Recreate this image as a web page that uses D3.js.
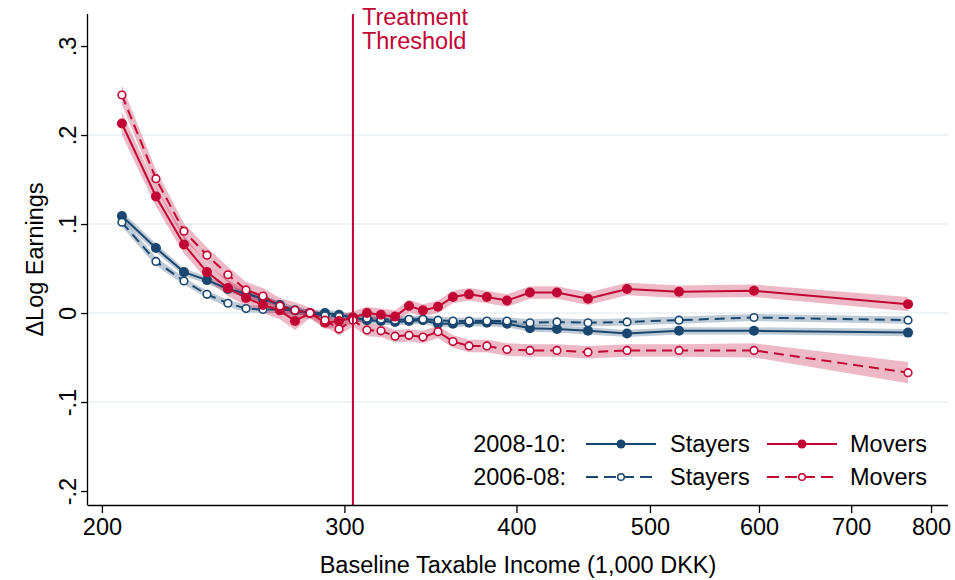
<!DOCTYPE html>
<html>
<head>
<meta charset="utf-8">
<script src="https://cdn.jsdelivr.net/npm/d3@7"></script>
<style>
  html, body { margin: 0; padding: 0; background: #fff; }
  svg { display: block; font-family: "Liberation Sans", Arial, sans-serif; }
</style>
</head>
<body>
<svg id="chart" width="955" height="580"></svg>
<script>
// Baseline taxable income bins (1,000 DKK), bin means
const income = [206.8, 218.9, 229.4, 238.4, 246.9, 254.5, 261.8, 269.3, 276.2, 283.2,
                290.4, 297.3, 304.3, 311.5, 318.9, 326.5, 334.2, 342.1, 350.8, 359.7,
                369.5, 380.7, 393.7, 409.1, 428.0, 450.8, 481.2, 524.9, 595.0, 769.8];

// Change in log earnings by group
const movers0810 = [0.213, 0.131, 0.077, 0.046, 0.028, 0.017, 0.009, 0.003, -0.009, 0.000,
                    -0.011, -0.009, -0.005, 0.000, -0.002, -0.004, 0.008, 0.003, 0.007, 0.018,
                    0.021, 0.018, 0.014, 0.023, 0.023, 0.016, 0.027, 0.024, 0.025, 0.010];
const stayers0810 = [0.109, 0.073, 0.046, 0.037, 0.027, 0.022, 0.016, 0.009, 0.003, 0.000,
                     0.000, -0.002, -0.005, -0.008, -0.009, -0.010, -0.009, -0.008, -0.012, -0.012,
                     -0.011, -0.011, -0.012, -0.017, -0.018, -0.020, -0.023, -0.020, -0.020, -0.022];
const stayers0608 = [0.102, 0.058, 0.036, 0.021, 0.011, 0.005, 0.004, 0.004, 0.003, 0.000,
                     -0.003, -0.004, -0.006, -0.006, -0.007, -0.008, -0.007, -0.007, -0.008, -0.009,
                     -0.009, -0.009, -0.009, -0.011, -0.010, -0.011, -0.010, -0.008, -0.005, -0.008];
const movers0608 = [0.245, 0.151, 0.092, 0.065, 0.043, 0.026, 0.019, 0.008, 0.003, 0.000,
                    -0.008, -0.018, -0.008, -0.019, -0.020, -0.026, -0.025, -0.027, -0.021, -0.032,
                    -0.037, -0.037, -0.041, -0.042, -0.042, -0.044, -0.042, -0.042, -0.042, -0.067];

// 95% confidence interval half-widths
const moversCI0810 = [0.013, 0.011, 0.010, 0.009, 0.009, 0.009, 0.009, 0.010, 0.010, 0.006,
                      0.007, 0.007, 0.007, 0.007, 0.007, 0.007, 0.007, 0.007, 0.007, 0.007,
                      0.007, 0.007, 0.007, 0.007, 0.007, 0.007, 0.007, 0.007, 0.007, 0.008];
const stayersCI0810 = [0.005, 0.005, 0.004, 0.004, 0.004, 0.004, 0.004, 0.004, 0.004, 0.003,
                       0.004, 0.004, 0.004, 0.004, 0.004, 0.004, 0.004, 0.004, 0.004, 0.004,
                       0.004, 0.004, 0.004, 0.004, 0.004, 0.004, 0.004, 0.004, 0.004, 0.004];
const stayersCI0608 = [0.005, 0.005, 0.004, 0.004, 0.004, 0.004, 0.004, 0.004, 0.004, 0.003,
                       0.004, 0.004, 0.004, 0.004, 0.004, 0.004, 0.004, 0.004, 0.004, 0.004,
                       0.004, 0.004, 0.004, 0.004, 0.004, 0.004, 0.004, 0.004, 0.004, 0.004];
const moversCI0608 = [0.011, 0.010, 0.009, 0.009, 0.009, 0.009, 0.009, 0.009, 0.009, 0.006,
                      0.007, 0.007, 0.007, 0.007, 0.007, 0.007, 0.007, 0.007, 0.007, 0.007,
                      0.007, 0.007, 0.007, 0.007, 0.007, 0.007, 0.007, 0.007, 0.008, 0.012];

const xTicks = [200, 300, 400, 500, 600, 700, 800];
const yTicks = [0.3, 0.2, 0.1, 0, -0.1, -0.2];
const yGrid = [0.2, 0.1, 0, -0.1];
const yTickLabels = [".3", ".2", ".1", "0", "-.1", "-.2"];
const threshold = 304.3;

const BLUE = "#1a476f";
const RED = "#c10534";
const FS = 23.5;

const svg = d3.select("#chart");
const plotLeft = 88, plotRight = 948, plotTop = 14, plotBottom = 505;

const x = d3.scaleLog().domain([195.4, 823]).range([plotLeft, plotRight]);
const y = d3.scaleLinear().domain([-0.2157, 0.336]).range([plotBottom, plotTop]);

// grid
svg.append("g").selectAll("line").data(yGrid).join("line")
  .attr("x1", plotLeft).attr("x2", plotRight)
  .attr("y1", d => y(d)).attr("y2", d => y(d))
  .attr("stroke", "#e9f1f2").attr("stroke-width", 1.5);

const series = [
  { vals: stayers0810, ci: stayersCI0810, color: BLUE, dashed: false, filled: true },
  { vals: stayers0608, ci: stayersCI0608, color: BLUE, dashed: true, filled: false },
  { vals: movers0810, ci: moversCI0810, color: RED, dashed: false, filled: true },
  { vals: movers0608, ci: moversCI0608, color: RED, dashed: true, filled: false }
];

const area = d3.area()
  .x(d => x(d.x)).y0(d => y(d.lo)).y1(d => y(d.hi));
const line = d3.line().x(d => x(d.x)).y(d => y(d.v));

// confidence bands
series.forEach(s => {
  const pts = income.map((v, i) => ({ x: v, lo: s.vals[i] - s.ci[i], hi: s.vals[i] + s.ci[i] }));
  svg.append("path").datum(pts).attr("d", area)
    .attr("fill", s.color).attr("fill-opacity", 0.28).attr("stroke", "none");
});

// lines and markers
series.forEach(s => {
  const pts = income.map((v, i) => ({ x: v, v: s.vals[i] }));
  svg.append("path").datum(pts).attr("d", line)
    .attr("fill", "none").attr("stroke", s.color).attr("stroke-width", 2)
    .attr("stroke-dasharray", s.dashed ? "10,6" : null);
  svg.append("g").selectAll("circle").data(pts).join("circle")
    .attr("cx", d => x(d.x)).attr("cy", d => y(d.v))
    .attr("r", s.filled ? 5 : 3.8)
    .attr("fill", s.filled ? s.color : "#fff")
    .attr("stroke", s.color).attr("stroke-width", s.filled ? 0 : 1.6);
});

// treatment threshold
svg.append("line")
  .attr("x1", x(threshold)).attr("x2", x(threshold))
  .attr("y1", plotTop).attr("y2", plotBottom)
  .attr("stroke", RED).attr("stroke-width", 2);
svg.append("text").attr("x", x(threshold) + 9).attr("y", 25)
  .attr("fill", RED).attr("font-size", FS).text("Treatment");
svg.append("text").attr("x", x(threshold) + 9).attr("y", 49)
  .attr("fill", RED).attr("font-size", FS).text("Threshold");

// axes
const xAxis = d3.axisBottom(x).tickValues(xTicks).tickFormat(d3.format("d"))
  .tickSize(8).tickPadding(5);
const gx = svg.append("g").attr("transform", `translate(0,${plotBottom})`).call(xAxis);
gx.select(".domain").attr("d", `M${plotLeft},0.5H${plotRight}`).attr("stroke", "#000").attr("stroke-width", 1.3);
gx.selectAll(".tick line").attr("stroke", "#000").attr("stroke-width", 1.3);
gx.selectAll(".tick text").attr("font-size", FS).attr("fill", "#000")
  .attr("font-family", "Liberation Sans, Arial, sans-serif");

const yAxis = d3.axisLeft(y).tickValues(yTicks).tickFormat((d, i) => yTickLabels[i])
  .tickSize(7).tickPadding(0);
const gy = svg.append("g").attr("transform", `translate(${plotLeft},0)`).call(yAxis);
gy.select(".domain").attr("d", `M-0.5,${plotTop}V${plotBottom + 0.5}`).attr("stroke", "#000").attr("stroke-width", 1.3);
gy.selectAll(".tick line").attr("stroke", "#000").attr("stroke-width", 1.3);
gy.selectAll(".tick text")
  .attr("font-size", FS).attr("fill", "#000")
  .attr("font-family", "Liberation Sans, Arial, sans-serif")
  .attr("text-anchor", "middle").attr("dy", null)
  .attr("x", null)
  .attr("transform", "translate(-12,0) rotate(-90)");

// axis titles
svg.append("text").attr("x", (plotLeft + plotRight) / 2).attr("y", 573)
  .attr("text-anchor", "middle").attr("font-size", FS)
  .text("Baseline Taxable Income (1,000 DKK)");
svg.append("text").attr("transform", `translate(43,${(plotTop + plotBottom) / 2}) rotate(-90)`)
  .attr("text-anchor", "middle").attr("font-size", FS)
  .text("\u0394Log Earnings");

// legend
const legendRows = [
  { label: "2008-10:", dashed: false, filled: true, y: 444 },
  { label: "2006-08:", dashed: true, filled: false, y: 477 }
];
const keys = [
  { color: BLUE, x0: 586, x1: 656, text: "Stayers", tx: 670 },
  { color: RED, x0: 767, x1: 837, text: "Movers", tx: 850 }
];
const lg = svg.append("g");
legendRows.forEach(r => {
  lg.append("text").attr("x", 566).attr("y", r.y + 8).attr("text-anchor", "end")
    .attr("font-size", FS).text(r.label);
  keys.forEach(k => {
    lg.append("line").attr("x1", k.x0).attr("x2", k.x1).attr("y1", r.y).attr("y2", r.y)
      .attr("stroke", k.color).attr("stroke-width", 2)
      .attr("stroke-dasharray", r.dashed ? "12,6" : null);
    lg.append("circle").attr("cx", (k.x0 + k.x1) / 2).attr("cy", r.y)
      .attr("r", r.filled ? 4.5 : 3.3)
      .attr("fill", r.filled ? k.color : "#fff")
      .attr("stroke", k.color).attr("stroke-width", r.filled ? 0 : 1.5);
    lg.append("text").attr("x", k.tx).attr("y", r.y + 8)
      .attr("font-size", FS).text(k.text);
  });
});
</script>
</body>
</html>
